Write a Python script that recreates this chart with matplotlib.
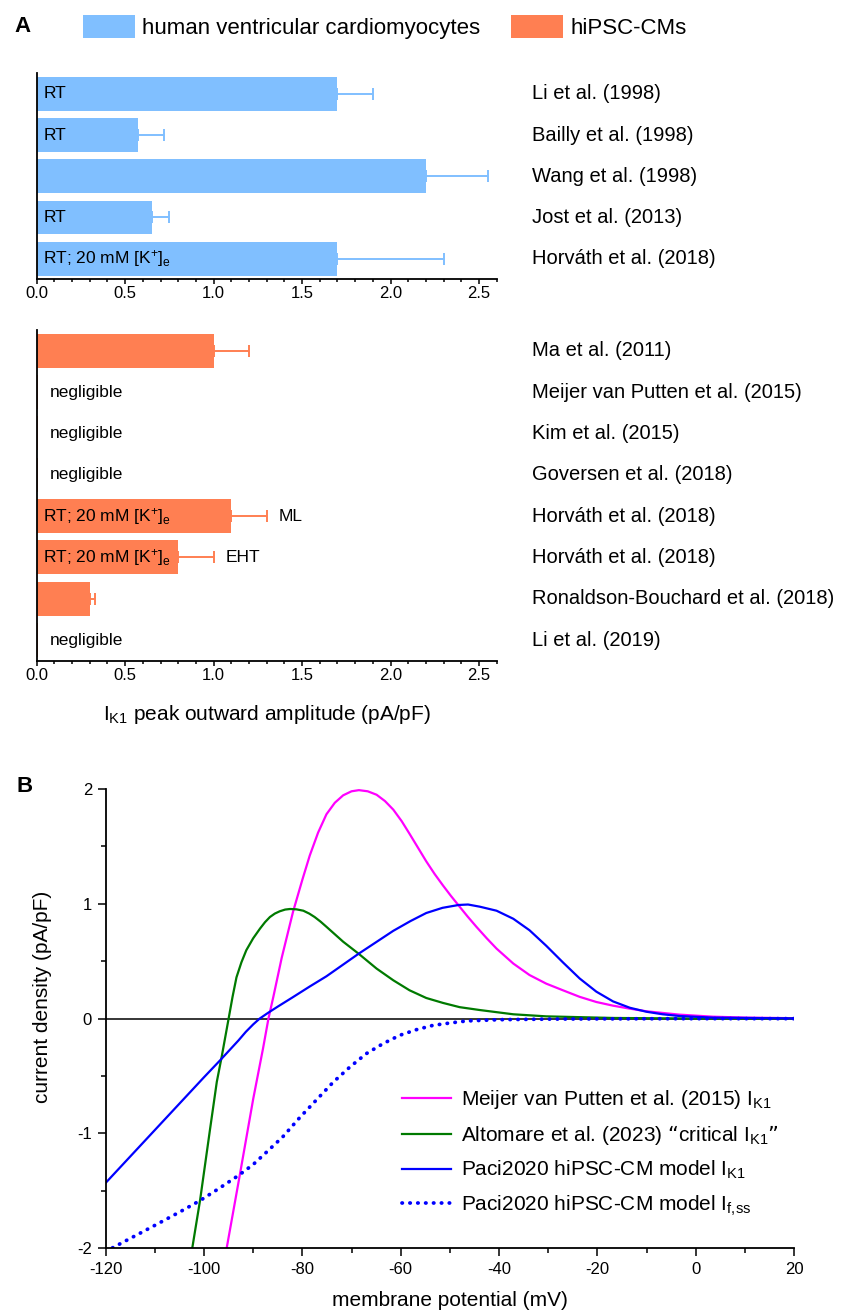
import numpy as np
import matplotlib
matplotlib.use("Agg")
import matplotlib.pyplot as plt
from matplotlib.ticker import MultipleLocator, FormatStrFormatter

# panel A data: human ventricular cardiomyocytes
hvcm_refs = ["Li et al. (1998)", "Bailly et al. (1998)", "Wang et al. (1998)",
             "Jost et al. (2013)", "Horváth et al. (2018)"]
hvcm_vals = [1.70, 0.57, 2.20, 0.65, 1.70]
hvcm_errs = [0.20, 0.15, 0.35, 0.10, 0.60]
hvcm_notes = ["RT", "RT", "", "RT", "RT; 20 mM [K$^{+}$]$_{e}$"]

# panel A data: hiPSC-CMs
ipsc_refs = ["Ma et al. (2011)", "Meijer van Putten et al. (2015)", "Kim et al. (2015)",
             "Goversen et al. (2018)", "Horváth et al. (2018)", "Horváth et al. (2018)",
             "Ronaldson-Bouchard et al. (2018)", "Li et al. (2019)"]
ipsc_vals = [1.00, 0.01, 0.01, 0.01, 1.10, 0.80, 0.30, 0.01]
ipsc_errs = [0.20, 0.0, 0.0, 0.0, 0.20, 0.20, 0.03, 0.0]
ipsc_notes = ["", "negligible", "negligible", "negligible",
              "RT; 20 mM [K$^{+}$]$_{e}$", "RT; 20 mM [K$^{+}$]$_{e}$", "", "negligible"]
ipsc_tags = ["", "", "", "", "ML", "EHT", "", ""]

# panel B data, membrane potential in mV, current in pA/pF
mvp_v = [-96.0, -95.4, -92.8, -90.0, -88.0, -86.9, -85.9, -84.2, -81.9, -80.0, -78.5,
         -76.8, -75.1, -73.4, -71.7, -70.0, -68.5, -66.7, -64.9, -63.2, -61.5, -59.8,
         -58.2, -56.5, -54.8, -53.1, -51.4, -49.8, -48.2, -46.4, -44.6, -42.5, -40.5,
         -37.1, -33.8, -30.4, -27.0, -23.6, -20.2, -16.8, -13.4, -10.0, -3.3, 3.5, 10.3, 20.0]
mvp_i = [-2.14, -2.00, -1.38, -0.70, -0.26, 0.00, 0.19, 0.53, 0.93, 1.21, 1.42,
         1.62, 1.78, 1.88, 1.945, 1.98, 1.99, 1.98, 1.95, 1.895, 1.82, 1.72,
         1.61, 1.49, 1.37, 1.26, 1.16, 1.07, 0.985, 0.89, 0.80, 0.70, 0.61,
         0.48, 0.38, 0.305, 0.247, 0.19, 0.145, 0.113, 0.087, 0.064, 0.035, 0.017, 0.009, 0.004]

alto_v = [-102.8, -102.4, -100.8, -98.8, -97.4, -96.4, -95.0, -94.2, -93.4, -92.4, -91.4,
          -90.0, -88.6, -87.6, -86.6, -85.6, -84.6, -83.5, -82.5, -81.2, -79.8, -78.6,
          -77.5, -76.3, -75.1, -73.4, -71.7, -68.6, -64.9, -61.5, -58.2, -54.8, -51.4,
          -48.0, -43.9, -37.1, -30.4, -16.8, 0.0, 20.0]
alto_i = [-2.20, -2.00, -1.58, -0.97, -0.55, -0.33, 0.00, 0.19, 0.36, 0.49, 0.596,
          0.70, 0.785, 0.84, 0.885, 0.915, 0.935, 0.95, 0.955, 0.952, 0.94, 0.915,
          0.885, 0.845, 0.80, 0.735, 0.67, 0.567, 0.436, 0.334, 0.247, 0.18, 0.137,
          0.10, 0.075, 0.038, 0.02, 0.006, 0.001, 0.0]

paci_v = [-120.0, -115.0, -110.0, -105.0, -100.0, -96.6, -93.0, -91.5, -90.0, -88.7,
          -87.0, -85.0, -82.0, -78.5, -75.1, -68.5, -61.5, -58.0, -54.8, -51.5, -48.2,
          -46.3, -43.9, -40.5, -37.1, -33.8, -30.4, -27.0, -23.6, -20.2, -16.8, -13.4,
          -10.0, -6.7, -3.3, 3.5, 20.0]
paci_i = [-1.43, -1.20, -0.97, -0.74, -0.51, -0.357, -0.19, -0.115, -0.05, 0.0,
          0.05, 0.105, 0.185, 0.28, 0.369, 0.567, 0.765, 0.85, 0.92, 0.965, 0.99,
          0.994, 0.975, 0.94, 0.87, 0.77, 0.635, 0.49, 0.35, 0.235, 0.15, 0.095,
          0.06, 0.038, 0.023, 0.009, 0.002]

iff_v = [-120.0, -118.8, -114.4, -110.0, -105.0, -100.8, -97.0, -93.0, -90.0, -87.3,
         -84.0, -80.5, -77.1, -73.7, -70.3, -67.0, -63.6, -60.2, -56.8, -53.4, -50.0,
         -46.6, -40.0, -30.0, -20.0, 0.0, 20.0]
iff_i = [-2.03, -2.00, -1.90, -1.80, -1.685, -1.584, -1.48, -1.366, -1.27, -1.163,
         -1.03, -0.86, -0.706, -0.552, -0.42, -0.305, -0.218, -0.145, -0.096, -0.058, -0.038,
         -0.02, -0.009, -0.004, -0.002, 0.0, 0.0]

blue_col = "#80BFFF"
orange_col = "#FF7F52"

plt.rcParams['font.family'] = ['Liberation Sans', 'DejaVu Sans']
plt.rcParams['mathtext.default'] = 'regular'
plt.rcParams['axes.unicode_minus'] = False

W, H = 855, 1311
fig = plt.figure(figsize=(W / 100, H / 100), dpi=100)


def box(left, top, right, bottom):
    return [left / W, 1 - bottom / H, (right - left) / W, (bottom - top) / H]


def bar_panel(ax, vals, errs, notes, refs, color, tags=None):
    y = np.arange(len(vals))
    bars = ax.barh(y, vals, height=0.82, color=color, edgecolor='none')
    for i in range(len(vals)):
        if errs[i] > 0:
            ax.errorbar(vals[i], i, xerr=[[0], [errs[i]]], fmt='none', ecolor=color,
                        elinewidth=1.4, capsize=4.5, capthick=1.4)
        if notes[i]:
            nx = 0.075 if vals[i] < 0.05 else 0.037
            ax.text(nx, i, notes[i], ha='left', va='center', fontsize=12.5)
        if tags and tags[i]:
            ax.text(vals[i] + errs[i] + 0.07, i, tags[i], ha='left', va='center', fontsize=12.5)
        ax.text(2.80, i, refs[i], ha='left', va='center', fontsize=14.5, clip_on=False)
    ax.set_xlim(0, 2.6)
    ax.set_ylim(len(vals) - 0.5, -0.5)
    for s in ['top', 'right']:
        ax.spines[s].set_visible(False)
    for s in ['left', 'bottom']:
        ax.spines[s].set_linewidth(1.3)
    ax.tick_params(axis='y', left=False, labelleft=False)
    ax.xaxis.set_major_locator(MultipleLocator(0.5))
    ax.xaxis.set_minor_locator(MultipleLocator(0.1))
    ax.xaxis.set_major_formatter(FormatStrFormatter('%.1f'))
    ax.tick_params(axis='x', which='major', length=3.4, width=1.1, labelsize=12, pad=1.5)
    ax.tick_params(axis='x', which='minor', length=2.4, width=1.1)
    return bars


ax1 = fig.add_axes(box(36.7, 73.3, 496.7, 279.3))
ax2 = fig.add_axes(box(36.7, 330, 496.7, 660.7))
b1 = bar_panel(ax1, hvcm_vals, hvcm_errs, hvcm_notes, hvcm_refs, blue_col)
b2 = bar_panel(ax2, ipsc_vals, ipsc_errs, ipsc_notes, ipsc_refs, orange_col, ipsc_tags)

fig.text(266.7 / W, 1 - 715 / H, "I$_{K1}$ peak outward amplitude (pA/pF)",
         ha='center', va='center', fontsize=15)

fig.legend([b1, b2], ["human ventricular cardiomyocytes", "hiPSC-CMs"], ncol=2,
           loc='center left', bbox_to_anchor=(83 / W, 1 - 27 / H), frameon=False,
           fontsize=16, handlelength=2.35, handleheight=1.2, handletextpad=0.3,
           columnspacing=1.4, borderpad=0, borderaxespad=0)

fig.text(14 / W, 1 - 27 / H, "A", fontsize=16, fontweight='bold', ha='left', va='center')
fig.text(16 / W, 1 - 787 / H, "B", fontsize=16, fontweight='bold', ha='left', va='center')

# panel B
ax3 = fig.add_axes(box(105.7, 789, 794, 1248.3))
ax3.axhline(0, color='black', lw=1.1, zorder=1)
ax3.plot(mvp_v, mvp_i, color='#FF00FF', lw=1.6,
         label="Meijer van Putten et al. (2015) I$_{K1}$")
ax3.plot(alto_v, alto_i, color='#007A00', lw=1.6,
         label="Altomare et al. (2023) \u201ccritical I$_{K1}$\u201d")
ax3.plot(paci_v, paci_i, color='#0000FF', lw=1.6,
         label="Paci2020 hiPSC-CM model I$_{K1}$")
ax3.plot(iff_v, iff_i, color='#0000FF', lw=2.7, linestyle=(0, (0.1, 2.0)),
         dash_capstyle='round', label="Paci2020 hiPSC-CM model I$_{f,\\!ss}$")
ax3.set_xlim(-120, 20)
ax3.set_ylim(-2, 2)
for s in ['top', 'right']:
    ax3.spines[s].set_visible(False)
for s in ['left', 'bottom']:
    ax3.spines[s].set_linewidth(1.3)
ax3.xaxis.set_major_locator(MultipleLocator(20))
ax3.xaxis.set_minor_locator(MultipleLocator(10))
ax3.yaxis.set_major_locator(MultipleLocator(1))
ax3.yaxis.set_minor_locator(MultipleLocator(0.5))
ax3.tick_params(which='major', length=5.8, width=1.1, labelsize=12, pad=4)
ax3.tick_params(which='minor', length=3.6, width=1.1)

ax3.legend(loc='upper left', bbox_to_anchor=(402 / W, 1 - 1088 / H),
           bbox_transform=fig.transFigure, frameon=False, fontsize=15,
           handlelength=2.36, handletextpad=0.48, labelspacing=0.58,
           borderpad=0, borderaxespad=0)

fig.text(449.9 / W, 1 - 1300 / H, "membrane potential (mV)", ha='center', va='center', fontsize=15)
fig.text(42 / W, 1 - 997 / H, "current density (pA/pF)", ha='center', va='center',
         rotation=90, fontsize=15)

fig.savefig("out.png", dpi=100)
